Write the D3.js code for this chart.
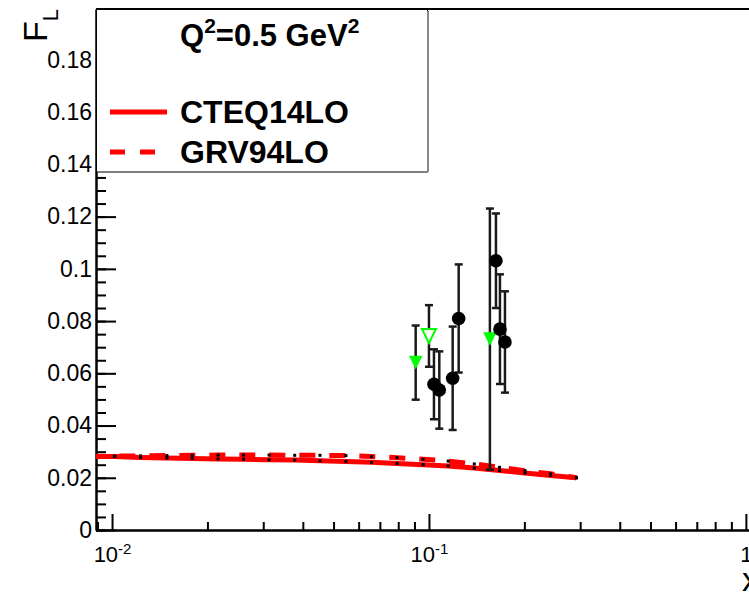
<!DOCTYPE html>
<html>
<head>
<meta charset="utf-8">
<script src="https://cdn.jsdelivr.net/npm/d3@7/dist/d3.min.js"></script>
<style>
  body { margin: 0; background: #fff; }
  text { font-family: "Liberation Sans", Arial, Helvetica, sans-serif; }
</style>
</head>
<body>
<div id="chart"></div>
<script>
// x sample points of the two LO curves (first one sits left of the frame)
var curveX = [0.00848, 0.0102, 0.0123, 0.0149, 0.0179, 0.0216, 0.026, 0.0313, 0.0377, 0.0453,
              0.0547, 0.0659, 0.0793, 0.0958, 0.115, 0.139, 0.167, 0.201, 0.242, 0.292];
var cteqY  = [0.0282, 0.0281, 0.0278, 0.0276, 0.0274, 0.0272, 0.0271, 0.0269, 0.0268, 0.0265,
              0.0262, 0.0259, 0.0255, 0.0250, 0.0245, 0.0237, 0.0228, 0.0218, 0.0209, 0.0200];
var grvY   = [0.0282, 0.0283, 0.0284, 0.0285, 0.0286, 0.0287, 0.0287, 0.0287, 0.0286, 0.0286,
              0.0285, 0.0281, 0.0277, 0.0271, 0.0264, 0.0253, 0.0240, 0.0227, 0.0215, 0.0200];

// measured F_L points
var blackX   = [0.1037, 0.1078, 0.1188, 0.1241, 0.1627, 0.1675, 0.1737];
var blackY   = [0.0558, 0.0536, 0.0581, 0.0810, 0.1031, 0.0769, 0.0720];
var blackErr = [0.0134, 0.0148, 0.0198, 0.0207, 0.0181, 0.0210, 0.0194];

var greenX   = [0.0908, 0.1557];
var greenY   = [0.0641, 0.0731];
var greenErr = [0.0142, 0.0500];

var openX   = [0.1];
var openY   = [0.0743];
var openErr = [0.0118];

var yTicks = [0, 0.02, 0.04, 0.06, 0.08, 0.1, 0.12, 0.14, 0.16, 0.18];
var xTicks = [0.01, 0.1, 1];
var xTickExp = ["-2", "-1", ""];

var legendHeader = "Q";
var legendNames = ["CTEQ14LO", "GRV94LO"];

function init() {
    var w = 749, h = 595;
    var left = 96, right = 759, top = 9, bottom = 530;

    var svg = d3.select("#chart").append("svg")
                .attr("width", w)
                .attr("height", h);

    var x = d3.scaleLog().domain([0.0089, 1.1]).range([left, right]);
    var y = d3.scaleLinear().domain([0, 0.1995]).range([bottom, top]);

    // minor ticks: 2..9 in each decade on x, every 0.005 on y
    var xMinor = [];
    [0.001, 0.01, 0.1].forEach(function(d) {
        for (var k = 2; k <= 9; k++) {
            var v = k * d;
            if (v > 0.0089 && v < 1.1) xMinor.push(v);
        }
    });
    var yMinor = d3.range(0, 40).map(function(i) { return i * 0.005; });

    // x axis
    svg.append("g").attr("transform", "translate(0," + bottom + ")")
        .call(d3.axisBottom(x).tickValues(xMinor).tickSizeInner(-8).tickSizeOuter(0).tickFormat(""));
    var xAx = svg.append("g").attr("transform", "translate(0," + bottom + ")")
        .call(d3.axisBottom(x).tickValues(xTicks).tickSizeInner(-16).tickSizeOuter(0));
    xAx.selectAll(".tick text").each(function(d, i) {
        var t = d3.select(this).text(null)
            .attr("y", 32).attr("dy", null)
            .attr("font-size", 22).attr("fill", "#000");
        if (xTickExp[i] === "") {
            t.text("1");
        } else {
            t.append("tspan").text("10");
            t.append("tspan").attr("font-size", 15).attr("dy", -8).text(xTickExp[i]);
        }
    });

    // y axis
    svg.append("g").attr("transform", "translate(" + left + ",0)")
        .call(d3.axisLeft(y).tickValues(yMinor).tickSizeInner(-10).tickSizeOuter(0).tickFormat(""));
    var yAx = svg.append("g").attr("transform", "translate(" + left + ",0)")
        .call(d3.axisLeft(y).tickValues(yTicks).tickSizeInner(-20).tickSizeOuter(0).tickPadding(4)
              .tickFormat(function(d) { return d === 0 ? "0" : d3.format("")(+d.toFixed(2)); }));
    yAx.selectAll(".tick text").attr("font-size", 23).attr("fill", "#000");

    svg.selectAll(".domain, .tick line").attr("stroke", "#000").attr("stroke-width", 2);

    // top frame line
    svg.append("line")
        .attr("x1", left).attr("x2", right)
        .attr("y1", top).attr("y2", top)
        .attr("stroke", "#000").attr("stroke-width", 2);

    // axis titles
    svg.append("text")
        .attr("x", right).attr("y", 591)
        .attr("text-anchor", "end")
        .attr("font-size", 34)
        .text("x");
    var ft = svg.append("text")
        .attr("transform", "translate(47," + top + ") rotate(-90)")
        .attr("text-anchor", "end")
        .attr("font-size", 34);
    ft.append("tspan").text("F");
    ft.append("tspan").attr("font-size", 22).attr("dy", 11).text("L");

    // curves, clipped to the frame
    svg.append("clipPath").attr("id", "frame")
        .append("rect")
        .attr("x", left).attr("y", top)
        .attr("width", right - left).attr("height", bottom - top);

    var line = d3.line()
        .x(function(d) { return x(d[0]); })
        .y(function(d) { return y(d[1]); });

    var curves = [
        {name: legendNames[0], vals: cteqY, dash: null},
        {name: legendNames[1], vals: grvY, dash: "16,14"}
    ];

    var cg = svg.append("g").attr("clip-path", "url(#frame)");
    curves.forEach(function(c) {
        var pts = curveX.map(function(v, i) { return [v, c.vals[i]]; });
        cg.append("path")
            .datum(pts)
            .attr("d", line)
            .attr("fill", "none")
            .attr("stroke", "#ff0000")
            .attr("stroke-width", 5)
            .attr("stroke-dasharray", c.dash);
    });
    curves.forEach(function(c) {
        var pts = curveX.map(function(v, i) { return [v, c.vals[i]]; });
        cg.selectAll(null)
            .data(pts)
            .enter()
            .append("rect")
            .attr("x", function(d) { return x(d[0]) - 1.5; })
            .attr("y", function(d) { return y(d[1]) - 1.5; })
            .attr("width", 3).attr("height", 3)
            .attr("fill", "#000");
    });

    // error bars + markers
    function errBars(xs, ys, es) {
        var g = svg.append("g");
        xs.forEach(function(v, i) {
            var cx = x(v), y0 = y(ys[i] - es[i]), y1 = y(ys[i] + es[i]);
            g.append("line").attr("x1", cx).attr("x2", cx).attr("y1", y0).attr("y2", y1)
                .attr("stroke", "#1a1a1a").attr("stroke-width", 2.5);
            [y0, y1].forEach(function(yy) {
                g.append("line").attr("x1", cx - 4).attr("x2", cx + 4).attr("y1", yy).attr("y2", yy)
                    .attr("stroke", "#1a1a1a").attr("stroke-width", 2.5);
            });
        });
    }
    errBars(greenX, greenY, greenErr);
    errBars(openX, openY, openErr);
    errBars(blackX, blackY, blackErr);

    function triDown(s) {
        return "M" + (-s / 2) + "," + (-s / 2) + "L" + (s / 2) + "," + (-s / 2) + "L0," + (s / 2) + "Z";
    }

    svg.selectAll(null).data(greenX).enter().append("path")
        .attr("d", triDown(13.5))
        .attr("transform", function(d, i) { return "translate(" + x(d) + "," + y(greenY[i]) + ")"; })
        .attr("fill", "#00ff00");

    svg.selectAll(null).data(openX).enter().append("path")
        .attr("d", triDown(14))
        .attr("transform", function(d, i) { return "translate(" + x(d) + "," + y(openY[i]) + ")"; })
        .attr("fill", "#fff")
        .attr("stroke", "#00ff00")
        .attr("stroke-width", 2);

    svg.selectAll(null).data(blackX).enter().append("circle")
        .attr("cx", function(d) { return x(d); })
        .attr("cy", function(d, i) { return y(blackY[i]); })
        .attr("r", 6.8)
        .attr("fill", "#000");

    // legend
    var lg = svg.append("g");
    lg.append("rect")
        .attr("x", 96.5).attr("y", 9.5)
        .attr("width", 331).attr("height", 162.5)
        .attr("fill", "#fff").attr("stroke", "#000").attr("stroke-width", 1);
    lg.append("line")
        .attr("x1", 428).attr("x2", 428).attr("y1", 11).attr("y2", 172)
        .attr("stroke", "#888").attr("stroke-width", 2);

    var hd = lg.append("text")
        .attr("x", 180).attr("y", 46)
        .attr("font-size", 31).attr("font-weight", "bold");
    hd.append("tspan").text(legendHeader);
    hd.append("tspan").attr("font-size", 21).attr("dy", -13).text("2");
    hd.append("tspan").attr("dy", 13).text("=0.5 GeV");
    hd.append("tspan").attr("font-size", 21).attr("dy", -13).text("2");

    curves.forEach(function(c, i) {
        var yy = 112 + i * 40;
        lg.append("line")
            .attr("x1", 110).attr("x2", 167)
            .attr("y1", yy).attr("y2", yy)
            .attr("stroke", "#ff0000").attr("stroke-width", 5)
            .attr("stroke-dasharray", c.dash ? "15,15" : null);
        lg.append("text")
            .attr("x", 180).attr("y", yy + 11)
            .attr("font-size", 32).attr("font-weight", "bold")
            .text(c.name);
    });
}

window.onload = init;
</script>
</body>
</html>
